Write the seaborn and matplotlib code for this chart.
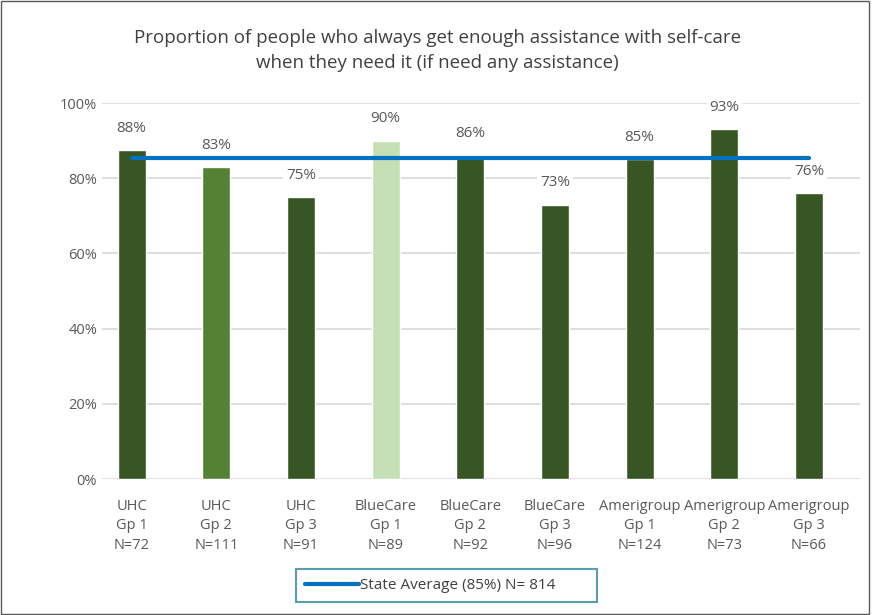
import seaborn as sns
import matplotlib.pyplot as plt
import pandas as pd
from matplotlib.ticker import PercentFormatter

groups = ["UHC\nGp 1\nN=72", "UHC\nGp 2\nN=111", "UHC\nGp 3\nN=91",
          "BlueCare\nGp 1\nN=89", "BlueCare\nGp 2\nN=92", "BlueCare\nGp 3\nN=96",
          "Amerigroup\nGp 1\nN=124", "Amerigroup\nGp 2\nN=73", "Amerigroup\nGp 3\nN=66"]
values = [0.875, 0.83, 0.75, 0.90, 0.86, 0.73, 0.85, 0.93, 0.76]
colors = ["#375623", "#548235", "#375623", "#C5E0B4", "#375623",
          "#375623", "#375623", "#375623", "#375623"]
state_avg = 0.855
title = "Proportion of people who always get enough assistance with self-care\nwhen they need it (if need any assistance)"
legend_label = "State Average (85%) N= 814"

df = pd.DataFrame({"group": groups, "value": values})

sns.set_style("white")
plt.rcParams['font.family'] = ['Open Sans', 'DejaVu Sans']

fig = plt.figure(figsize=(8.75, 6.15), dpi=100)
ax = fig.add_axes([0.1166, 0.221, 0.866, 0.6115])

sns.barplot(data=df, x="group", y="value", hue="group", palette=colors,
            width=0.33, saturation=1, legend=False, ax=ax, zorder=2)

ax.set_ylim(0, 1)
ax.set_xlim(-0.35, 8.6)
ax.yaxis.set_major_formatter(PercentFormatter(1.0, decimals=0))
ax.set_yticks([0, 0.2, 0.4, 0.6, 0.8, 1.0])
ax.grid(axis="y", color="#D9D9D9", linewidth=1.2, zorder=0)
for s in ax.spines.values():
    s.set_visible(False)
ax.tick_params(axis="both", colors="#595959", labelsize=10.5, length=0)
ax.tick_params(axis="x", pad=14)
for lbl in ax.get_xticklabels():
    lbl.set_linespacing(1.45)
ax.set_xlabel("")
ax.set_ylabel("")

line, = ax.plot([0, len(groups) - 1], [state_avg, state_avg], color="#0070C0",
                linewidth=3, zorder=3, label=legend_label)

for i, v in enumerate(values):
    ax.text(i, v + 0.058, f"{round(v * 100)}%", ha="center", va="center",
            fontsize=11, color="#595959", zorder=4,
            bbox=dict(facecolor="white", edgecolor="none", pad=2))

fig.suptitle(title, y=0.953, fontsize=13.5, color="#404040", linespacing=1.5)

leg = fig.legend(handles=[line], loc="center", bbox_to_anchor=(0.51, 0.048),
                 frameon=True, fancybox=False, fontsize=11, handlelength=3.5,
                 handletextpad=0.1, borderpad=0.6, borderaxespad=0,
                 labelcolor="#404040")
leg.get_frame().set_edgecolor("#31859C")
leg.get_frame().set_linewidth(1.5)
for t in leg.get_texts():
    t.set_text(legend_label + "        ")

fig.patches.append(plt.Rectangle((0.001, 0.001), 0.992, 0.997, transform=fig.transFigure,
                                 fill=False, edgecolor="#595959", linewidth=1))

fig.savefig("out.png", dpi=100)
